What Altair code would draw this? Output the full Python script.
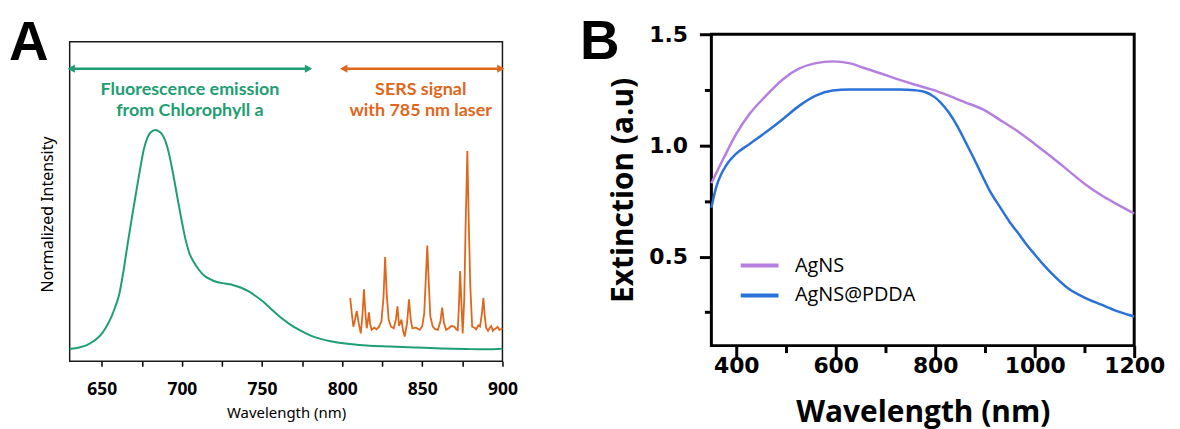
import altair as alt
import pandas as pd

# ---------------- Panel A data ----------------
fl_nm = [630, 636, 641, 645, 649.4, 652.5, 655.6, 658.3, 660.8, 663.5, 666, 668.5, 671.1,
         673.7, 676.3, 678.5, 680.4, 683.5, 685.5, 687.7, 689.8, 691.8, 694.4, 697, 699.6,
         702.2, 704.7, 707.3, 710.5, 713.6, 717.5, 721.8, 727, 732.2, 737, 741.5, 746,
         750.8, 756, 761.1, 767, 773.5, 780, 787, 794.4, 805, 815.3, 830, 846.3, 862,
         877.3, 890, 900]
fl_int = [0.038, 0.043, 0.051, 0.063, 0.082, 0.105, 0.134, 0.168, 0.207, 0.28, 0.362, 0.44,
          0.518, 0.595, 0.664, 0.700, 0.716, 0.724, 0.720, 0.710, 0.688, 0.653, 0.590, 0.518,
          0.447, 0.383, 0.338, 0.311, 0.287, 0.269, 0.257, 0.248, 0.243, 0.238, 0.230, 0.219,
          0.204, 0.186, 0.162, 0.139, 0.117, 0.097, 0.081, 0.069, 0.061, 0.054, 0.049, 0.046,
          0.043, 0.040, 0.038, 0.037, 0.039]

sers_nm = [805.0, 806.0, 807.0, 808.0, 809.1, 810.3, 811.6, 812.6, 813.6, 814.5, 815.3, 816.0,
           816.7, 817.5, 818.4, 820.0, 821.5, 823.0, 824.5, 825.8, 826.8, 827.8, 829.0, 830.5,
           832.2, 833.5, 834.5, 835.5, 837.0, 838.0, 839.0, 840.5, 841.7, 842.8, 843.8, 846.0,
           848.4, 850.0, 851.2, 852.2, 853.1, 854.0, 855.0, 856.5, 858.0, 859.7, 861.3, 862.4,
           863.5, 864.9, 866.5, 868.0, 870.0, 871.2, 872.1, 872.9, 873.6, 874.4, 875.2, 876.2,
           877.0, 878.1, 879.0, 879.9, 881.1, 882.5, 883.6, 885.0, 886.0, 887.2, 888.1, 889.0,
           889.8, 891.0, 891.9, 893.0, 894.0, 895.0, 896.0, 897.0, 898.0, 899.0, 900.0]
sers_int = [0.198, 0.150, 0.108, 0.130, 0.157, 0.120, 0.087, 0.140, 0.225, 0.150, 0.103, 0.125,
            0.153, 0.115, 0.098, 0.105, 0.100, 0.108, 0.125, 0.200, 0.326, 0.210, 0.130, 0.108,
            0.103, 0.130, 0.172, 0.110, 0.130, 0.095, 0.077, 0.120, 0.194, 0.130, 0.103, 0.105,
            0.098, 0.110, 0.150, 0.260, 0.362, 0.250, 0.140, 0.108, 0.100, 0.098, 0.125, 0.168,
            0.120, 0.098, 0.103, 0.110, 0.108, 0.100, 0.097, 0.180, 0.282, 0.180, 0.087, 0.200,
            0.420, 0.658, 0.430, 0.240, 0.108, 0.105, 0.100, 0.112, 0.108, 0.150, 0.198, 0.140,
            0.105, 0.095, 0.103, 0.110, 0.095, 0.100, 0.103, 0.108, 0.098, 0.100, 0.103]

GREEN = "#1e9e72"
ORANGE = "#e0661c"

arrow_start = [630, 800]
arrow_end = [780, 900]
arrow_level = [0.916, 0.916]
arrow_color = [GREEN, ORANGE]

head_nm = [631, 779, 801, 899]
head_level = [0.916, 0.916, 0.916, 0.916]
head_shape = ["triangle-left", "triangle-right", "triangle-left", "triangle-right"]
head_color = [GREEN, GREEN, ORANGE, ORANGE]

note_text = ["Fluorescence emission", "from Chlorophyll a", "SERS signal", "with 785 nm laser"]
note_nm = [705, 705, 849, 849]
note_level = [0.850, 0.783, 0.850, 0.783]
note_color = [GREEN, GREEN, ORANGE, ORANGE]

a_ticks = [650, 675, 700, 725, 750, 775, 800, 825, 850, 875, 900]

# ---------------- Panel B data ----------------
agns_nm = [350, 374, 400, 427, 460, 494, 527, 560, 594, 627, 660, 694, 727, 760, 794,
           827, 860, 894, 930, 965, 1000, 1034, 1067, 1100, 1134, 1167, 1200]
agns_ext = [0.83, 0.940, 1.052, 1.142, 1.224, 1.298, 1.346, 1.370, 1.378, 1.370, 1.346,
            1.321, 1.296, 1.273, 1.251, 1.224, 1.194, 1.164, 1.115, 1.065, 1.007, 0.948, 0.888,
            0.828, 0.776, 0.734, 0.694]
pdda_nm = [350, 360, 370, 380, 400, 427, 460, 494, 527, 560, 594, 627, 660, 694, 727, 760,
           781, 800, 810, 827, 845, 861, 878, 894, 910, 930, 950, 967, 985, 1000, 1017, 1034,
           1067, 1100, 1134, 1167, 1200]
pdda_ext = [0.72, 0.815, 0.872, 0.911, 0.963, 1.007, 1.060, 1.119, 1.179, 1.224, 1.247, 1.252,
            1.252, 1.252, 1.252, 1.248, 1.239, 1.215, 1.195, 1.149, 1.085, 1.015, 0.940, 0.866,
            0.795, 0.724, 0.655, 0.605, 0.550, 0.510, 0.465, 0.425, 0.358, 0.316, 0.284, 0.254,
            0.231]
series_names = ["AgNS", "AgNS@PDDA"]
series_colors = ["#b57fe0", "#2a72d9"]
b_xticks = [400, 500, 600, 700, 800, 900, 1000, 1100, 1200]
b_yticks = [0.25, 0.5, 0.75, 1.0, 1.25, 1.5]

# ---------------- Panel A ----------------
fl_df = pd.DataFrame({"nm": fl_nm, "v": fl_int})
sers_df = pd.DataFrame({"nm": sers_nm, "v": sers_int})
arrow_df = pd.DataFrame({"nm": arrow_start, "x2": arrow_end, "v": arrow_level, "c": arrow_color})
head_df = pd.DataFrame({"nm": head_nm, "v": head_level, "s": head_shape, "c": head_color})
note_df = pd.DataFrame({"t": note_text, "nm": note_nm, "v": note_level, "c": note_color})

xA = alt.Scale(domain=[630, 900], nice=False, zero=False)
yA = alt.Scale(domain=[0, 1], nice=False, zero=False)

a_xaxis = alt.Axis(values=a_ticks, labelExpr="datum.value % 50 === 0 ? datum.label : ''",
                   tickSize=5, tickWidth=1.5, tickColor="black", domain=False, grid=False,
                   labelFont="Noto Sans", labelFontWeight="bold", labelFontSize=17.5,
                   labelColor="black", labelPadding=14, labelFlush=False, labelOverlap=False,
                   title="Wavelength (nm)", titleFont="Noto Sans", titleFontSize=15,
                   titleFontWeight="normal", titleColor="black", titlePadding=8)
a_yaxis = alt.Axis(labels=False, ticks=False, domain=False, grid=False,
                   title="Normalized Intensity", titleFont="Noto Sans", titleFontSize=16,
                   titleFontWeight="normal", titleColor="black", titleAngle=270,
                   titleX=-22, titleY=173, titleAlign="center", titleBaseline="middle")

def ax(field):
    return alt.X(field, scale=xA, axis=a_xaxis)

def ay(field):
    return alt.Y(field, scale=yA, axis=a_yaxis)

fl_line = alt.Chart(fl_df).mark_line(color=GREEN, strokeWidth=2, interpolate="monotone").encode(
    x=ax("nm:Q"), y=ay("v:Q"))
sers_line = alt.Chart(sers_df).mark_line(color=ORANGE, strokeWidth=1.8).encode(
    x=ax("nm:Q"), y=ay("v:Q"))
arrows = alt.Chart(arrow_df).mark_rule(strokeWidth=2.5).encode(
    x=ax("nm:Q"), x2="x2:Q", y=ay("v:Q"), color=alt.Color("c:N", scale=None))
heads = alt.Chart(head_df).mark_point(filled=True, size=70, opacity=1).encode(
    x=ax("nm:Q"), y=ay("v:Q"),
    shape=alt.Shape("s:N", scale=None),
    color=alt.Color("c:N", scale=None))
notes = alt.Chart(note_df).mark_text(font="Lato", fontWeight="bold", fontSize=18,
                                     align="center", baseline="middle").encode(
    x=ax("nm:Q"), y=ay("v:Q"), text="t:N", color=alt.Color("c:N", scale=None))
letterA = alt.Chart(pd.DataFrame({"t": ["A"]})).mark_text(
    font="Liberation Sans", fontWeight="bold", fontSize=55, align="left",
    baseline="alphabetic", color="black").encode(
    text="t:N", x=alt.value(-61), y=alt.value(18))

panelA = alt.layer(fl_line, sers_line, arrows, heads, notes, letterA).properties(
    width=435, height=321,
    view=alt.ViewBackground(stroke="#1a1a1a", strokeWidth=1.5),
)

# ---------------- Panel B ----------------
b_df = pd.concat([
    pd.DataFrame({"nm": agns_nm, "v": agns_ext, "s": series_names[0]}),
    pd.DataFrame({"nm": pdda_nm, "v": pdda_ext, "s": series_names[1]}),
])

xB = alt.Scale(domain=[350, 1200], nice=False, zero=False)
yB = alt.Scale(domain=[0.1, 1.5], nice=False, zero=False)

b_xaxis = alt.Axis(values=b_xticks, format="d",
                   labelExpr="datum.value % 200 === 0 ? datum.label : ''",
                   tickSize={"condition": {"test": "datum.value % 200 === 0", "value": 12}, "value": 7},
                   tickWidth=3, tickColor="black", domain=False, grid=False,
                   labelFont="DejaVu Sans", labelFontWeight="bold", labelFontSize=22,
                   labelColor="black", labelPadding=-2, labelFlush=False, labelOverlap=False,
                   title="Wavelength (nm)", titleFont="Open Sans", titleFontSize=30,
                   titleFontWeight="bold", titleColor="black", titlePadding=21)
b_yaxis = alt.Axis(values=b_yticks,
                   labelExpr="datum.value % 0.5 === 0 ? format(datum.value, '.1f') : ''",
                   tickSize={"condition": {"test": "datum.value % 0.5 === 0", "value": 12}, "value": 7},
                   tickWidth=3, tickColor="black", domain=False, grid=False,
                   labelFont="DejaVu Sans", labelFontWeight="bold", labelFontSize=22,
                   labelColor="black", labelPadding=12, labelFlush=False, labelOverlap=False,
                   title="Extinction (a.u)", titleFont="Open Sans", titleFontSize=30,
                   titleFontWeight="bold", titleColor="black", titlePadding=10)

b_lines = alt.Chart(b_df).mark_line(strokeWidth=2.5, interpolate="monotone").encode(
    x=alt.X("nm:Q", scale=xB, axis=b_xaxis),
    y=alt.Y("v:Q", scale=yB, axis=b_yaxis),
    color=alt.Color("s:N", scale=alt.Scale(domain=series_names, range=series_colors),
                    legend=alt.Legend(orient="none", legendX=37, legendY=221, title=None,
                                      symbolType="M-2,0H2", symbolSize=361,
                                      symbolStrokeWidth=4, labelFont="Open Sans",
                                      labelFontSize=20, labelColor="black", labelOffset=24,
                                      rowPadding=8, padding=0)),
)
letterB = alt.Chart(pd.DataFrame({"t": ["B"]})).mark_text(
    font="Liberation Sans", fontWeight="bold", fontSize=55, align="left",
    baseline="alphabetic", color="black").encode(
    text="t:N", x=alt.value(-132), y=alt.value(25))

panelB = alt.layer(b_lines, letterB).properties(
    width=425, height=313,
    view=alt.ViewBackground(stroke="black", strokeWidth=3),
)

chart = alt.hconcat(panelA, panelB, spacing=60, center=True).resolve_legend(
    color="independent").resolve_scale(color="independent").properties(
    padding={"left": 0, "top": 4, "right": 5, "bottom": 12},
    background="white",
)

chart.save("out.html", embed_options={"renderer": "svg", "actions": False})
